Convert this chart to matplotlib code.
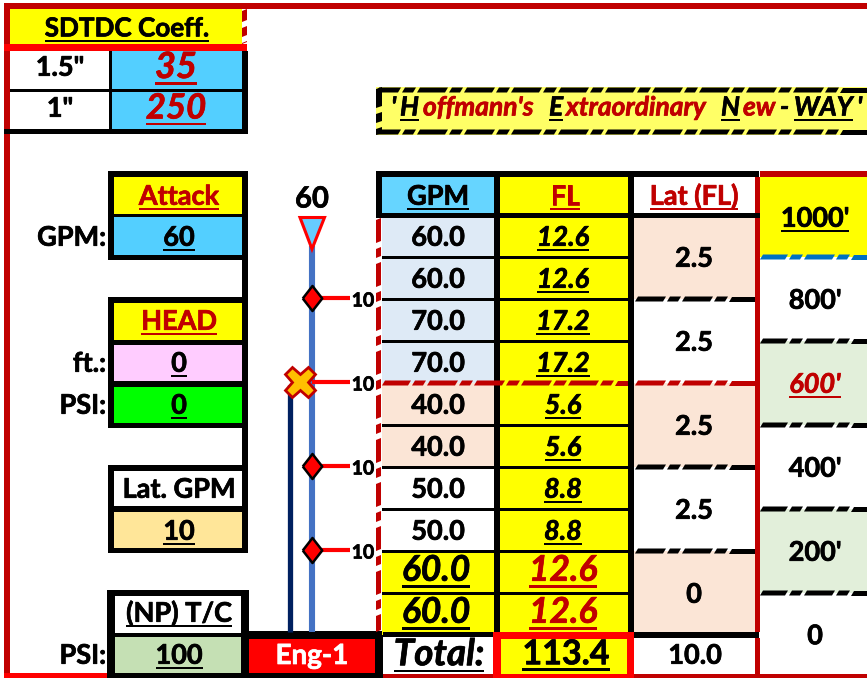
import matplotlib
matplotlib.use("Agg")
from matplotlib import pyplot as plt
from matplotlib import patheffects
from matplotlib.patches import Polygon, Rectangle

plt.rcParams['font.family'] = ['Lato', 'DejaVu Sans']

# table values
gpm_values = [60.0, 60.0, 70.0, 70.0, 40.0, 40.0, 50.0, 50.0, 60.0, 60.0]
fl_values = [12.6, 12.6, 17.2, 17.2, 5.6, 5.6, 8.8, 8.8, 12.6, 12.6]
lat_fl_values = ["2.5", "2.5", "2.5", "2.5", "0"]
length_labels = ["1000'", "800'", "600'", "400'", "200'", "0"]
lateral_gpm = [10, 10, 10, 10]
coeff_labels = ['1.5"', '1"']
coeff_values = [35, 250]
attack_gpm = 60
head_ft = 0
head_psi = 0
lat_gpm = 10
np_psi = 100
total_fl = 113.4
total_lat = 10.0

RED = "#ff0000"
DARK = "#c00000"
BLUE = "#53cfff"
YEL = "#ffff00"
PEACH = "#fbe5d6"
LBLUE = "#deeaf6"
LGREEN = "#e2efda"

fig = plt.figure(figsize=(8.67, 6.78), dpi=100)
ax = fig.add_axes([0, 0, 1, 1])
ax.set_xlim(0, 867)
ax.set_ylim(678, 0)
ax.axis("off")
renderer = fig.canvas.get_renderer()


def box(x0, y0, x1, y1, color, z=1):
    ax.add_patch(Rectangle((x0, y0), x1 - x0, y1 - y0, fc=color, ec="none", lw=0, zorder=z))


def hdash(x0, x1, y, color, t=5, start=0):
    # excel style slanted dash-dot border
    x = x0 - start
    pattern = [28, 4, 11, 4]
    i = 0
    while x < x1:
        w = pattern[i % 4]
        if i % 2 == 0:
            a, b = max(x, x0), min(x + w, x1)
            if b > a:
                ax.add_patch(Polygon([(a, y + t / 2), (min(b, x1), y + t / 2),
                                      (min(b + 3, x1), y - t / 2), (min(a + 3, x1), y - t / 2)],
                                     fc=color, ec="none", zorder=4))
        x += w
        i += 1


def vdash(x0, x1, y0, y1, color, start=0):
    y = y0 - start
    pattern = [25, 4, 11, 4]
    i = 0
    while y < y1:
        h = pattern[i % 4]
        if i % 2 == 0:
            a, b = max(y, y0), min(y + h, y1)
            if b > a:
                ax.add_patch(Polygon([(x0, a + 2), (x1, a), (x1, b - 2), (x0, b)],
                                     fc=color, ec="none", zorder=4))
        y += h
        i += 1


def label(x, cy, s, size=19.5, color="black", italic=False, under=False, ha="center"):
    px = size * 100 / 72
    base = cy + 0.36 * px
    t = ax.text(x, base, s, fontsize=size, color=color, ha=ha, va="baseline",
                fontweight="bold", fontstyle="italic" if italic else "normal", zorder=6)
    # the reference font is a bit heavier than Lato Bold
    t.set_path_effects([patheffects.withStroke(linewidth=0.5, foreground=color)])
    if under:
        bb = t.get_window_extent(renderer)
        th = max(2, 0.075 * px)
        box(bb.x0, base + 0.12 * px, bb.x1, base + 0.12 * px + th, color, z=6)
    return t


# outer frame
box(4, 3, 867, 9, DARK)
box(4, 3, 10, 674, DARK)
box(4, 673, 108, 678, RED)
box(383, 674, 867, 678, DARK)

# coefficient block
box(10, 9, 242, 44, YEL)
vdash(242, 247, 9, 44, DARK, start=12)
label(127, 27, "SDTDC Coeff.", size=18.8, under=True)
box(112, 51, 242, 89, BLUE)
box(112, 92, 242, 129, BLUE)
box(4, 44, 247, 51, RED, z=3)
box(109, 51, 112, 129, "black")
box(10, 89, 247, 92, "black")
box(242, 51, 248, 134, "black")
box(4, 129, 248, 134, "black")
for i, (lab, val) in enumerate(zip(coeff_labels, coeff_values)):
    cy = [66, 107][i]
    label(60, cy, lab)
    label(176, cy - 1, str(val), size=[26, 25][i], color=DARK, italic=True, under=True)

# input boxes down the left
box(242, 176, 248, 553, "black")
for top, bottom in [(171, 260), (297, 428), (465, 553)]:
    box(108, top, 248, top + 6, "black")
    box(108, bottom - 5, 248, bottom, "black")
    box(108, top, 114, bottom, "black")

box(114, 177, 242, 214, YEL)
box(114, 217, 242, 255, BLUE)
box(114, 214, 242, 217, "black")
label(179, 195, "Attack", color=DARK, under=True)
label(179, 236, str(attack_gpm), under=True)
label(106, 236, "GPM:", ha="right")

box(114, 303, 242, 340, YEL)
box(114, 340, 242, 345, "black")
box(114, 345, 242, 381, "#ffccff")
box(114, 381, 242, 387, "black")
box(114, 387, 242, 423, "#00ff00")
label(179, 320, "HEAD", color=DARK, under=True)
label(179, 362, str(head_ft), under=True)
label(179, 404, str(head_psi), under=True)
label(106, 362, "ft.:", ha="right")
label(106, 404, "PSI:", ha="right")

box(114, 506, 242, 512, "black")
box(114, 512, 242, 548, "#ffe699")
label(179, 488, "Lat. GPM")
label(179, 530, str(lat_gpm), under=True)

box(107, 590, 249, 596, "black")
box(107, 590, 115, 678, "black")
box(241, 590, 249, 678, "black")
box(107, 633, 249, 637, "black")
box(107, 673, 249, 678, "black")
box(115, 637, 241, 673, "#c5e0b4")
label(179, 612, "(NP) T/C", under=True)
label(179, 654, str(np_psi), under=True)
label(106, 654, "PSI:", ha="right")

# engine
box(249, 631, 383, 639, "black")
box(249, 673, 383, 678, "black")
box(375, 631, 383, 678, "black")
box(249, 639, 375, 673, RED)
label(312, 654, "Eng-1", size=20, color="white")

# table geometry
n = len(gpm_values)
col_gpm = (382, 494)
col_fl = (500, 628)
col_lat = (634, 755)
row_ys = [215 + 42 * i for i in range(n + 1)]

# title banner
box(376, 87, 867, 135, "#ffff66")
hdash(376, 867, 90, "black", t=5, start=6)
hdash(376, 867, 132, "black", t=5, start=6)
vdash(376, 382, 87, 135, "black", start=4)
title_parts = [
    (391, "'", "black", False), (400, "H", "black", True), (423, "offmann's", DARK, False),
    (549, "E", "black", True), (566, "xtraordinary", DARK, False), (721, "N", "black", True),
    (743, "ew", DARK, False), (780, "-", "black", False), (794, "WAY", "black", True), (857, "'", "black", False),
]
for x, s, c, u in title_parts:
    label(x, 106, s, size=19, color=c, italic=True, under=u, ha="left")

# header
box(376, 171, 759, 177, "black")
box(376, 171, 382, 218, "black")
box(382, 177, 494, 213, "#66d5ff")
box(500, 177, 628, 213, YEL)
box(376, 213, 759, 218, "black")
label(438, 195, "GPM", under=True)
label(565, 195, "FL", color=DARK, under=True)
label(694, 195, "Lat (FL)", color=DARK, under=True)

# gpm + fl rows
gpm_fill = [LBLUE] * 4 + [PEACH] * 2 + ["white"] * 2 + [YEL] * 2
for i in range(n):
    y0, y1 = max(row_ys[i], 218), row_ys[i + 1]
    cy = row_ys[i] + 21
    box(col_gpm[0], y0, col_gpm[1], y1, gpm_fill[i])
    box(col_fl[0], y0, col_fl[1], y1, YEL)
    if i >= 8:
        label(436, cy - 4, f"{gpm_values[i]:.1f}", size=25.5, italic=True, under=True)
        label(563, cy - 4, f"{fl_values[i]:.1f}", size=25.5, color=DARK, italic=True, under=True)
    else:
        label(438, cy, f"{gpm_values[i]:.1f}")
        label(563, cy, f"{fl_values[i]:.1f}", italic=True, under=True)
    if i > 0 and i != 4:
        box(col_gpm[0], y0 - 1.5, col_gpm[1], y0 + 1.5, "black", z=3)
        box(col_fl[0], y0 - 1.5, col_fl[1], y0 + 1.5, "black", z=3)

# lateral friction loss, merged over two rows
for i, val in enumerate(lat_fl_values):
    y0, y1 = max(row_ys[2 * i], 218), row_ys[2 * i + 2]
    box(col_lat[0], y0, col_lat[1], y1, PEACH if i % 2 == 0 else "white")
    label(694, row_ys[2 * i] + 42, val)
    if i > 0:
        hdash(635, 755, y0, DARK if i == 2 else "black", t=5)

# vertical rules
box(494, 177, 500, 638, "black", z=3)
box(628, 177, 634, 638, "black", z=3)
box(755, 177, 760, 632, DARK, z=3)
box(755, 213, 760, 218, "black", z=3)
vdash(376, 381, 218, 632, DARK)
hdash(382, 628, row_ys[4], DARK, t=5, start=2)

# length column
len_edges = [177, 257, 341, 425, 509, 593, 674]
len_fill = [YEL, "white", LGREEN, "white", LGREEN, "white"]
box(760, 171, 867, 177, DARK)
for i, lab in enumerate(length_labels):
    box(760, len_edges[i], 867, len_edges[i + 1], len_fill[i])
    cy = (len_edges[i] + len_edges[i + 1]) / 2
    if i == 0:
        label(815, cy, lab, under=True)
    elif i == 2:
        label(815, cy, lab, color=DARK, italic=True, under=True)
    else:
        label(815, cy + (1 if i == 5 else 0), lab)
    if i > 0:
        hdash(760, 867, len_edges[i], "#0070c0" if i == 1 else "black", t=5, start=3)

# total row
box(383, 632, 755, 637, "black", z=3)
box(634, 632, 759, 638, "black", z=5)
box(755, 638, 760, 674, DARK)
box(493, 632, 634, 639, RED, z=5)
box(493, 632, 501, 678, RED, z=5)
box(627, 632, 634, 678, RED, z=5)
box(501, 639, 627, 674, YEL)
box(493, 674, 634, 678, RED, z=5)
label(439, 652, "Total:", size=26.5, italic=True, under=True)
label(566, 652, f"{total_fl:.1f}", size=24.5, under=True)
label(695, 654, f"{total_lat:.1f}")

# hose diagram
ax.plot([312, 312], [246, 632], color="#4472c4", lw=4.4, solid_capstyle="butt", zorder=2)
ax.plot([289.5, 289.5], [385, 632], color="#002060", lw=3.8, solid_capstyle="butt", zorder=2)
label(312, 197, str(attack_gpm), size=21)
ax.add_patch(Polygon([(300, 217.5), (324.5, 217.5), (312, 249)], fc="#66ccff", ec=RED, lw=2.2, zorder=5))
diamond = [(-0.78, 0), (0, 1), (0.78, 0), (0, -1), (-0.78, 0)]
for i, gpm in enumerate(lateral_gpm):
    y = row_ys[2 * i + 2] - 1
    ax.plot([312, 350], [y, y], color=RED, lw=3, solid_capstyle="butt", zorder=3)
    label(363, y + 1.5, str(gpm), size=14)
    if i == 1:
        ax.plot([300], [y], marker="X", ms=22, mfc="#ffc000", mec=DARK, mew=2, zorder=5)
    else:
        ax.plot([312], [y], marker=diamond, ms=18, mfc=RED, mec="black", mew=1.8, zorder=5)

fig.savefig("out.png", dpi=100)
